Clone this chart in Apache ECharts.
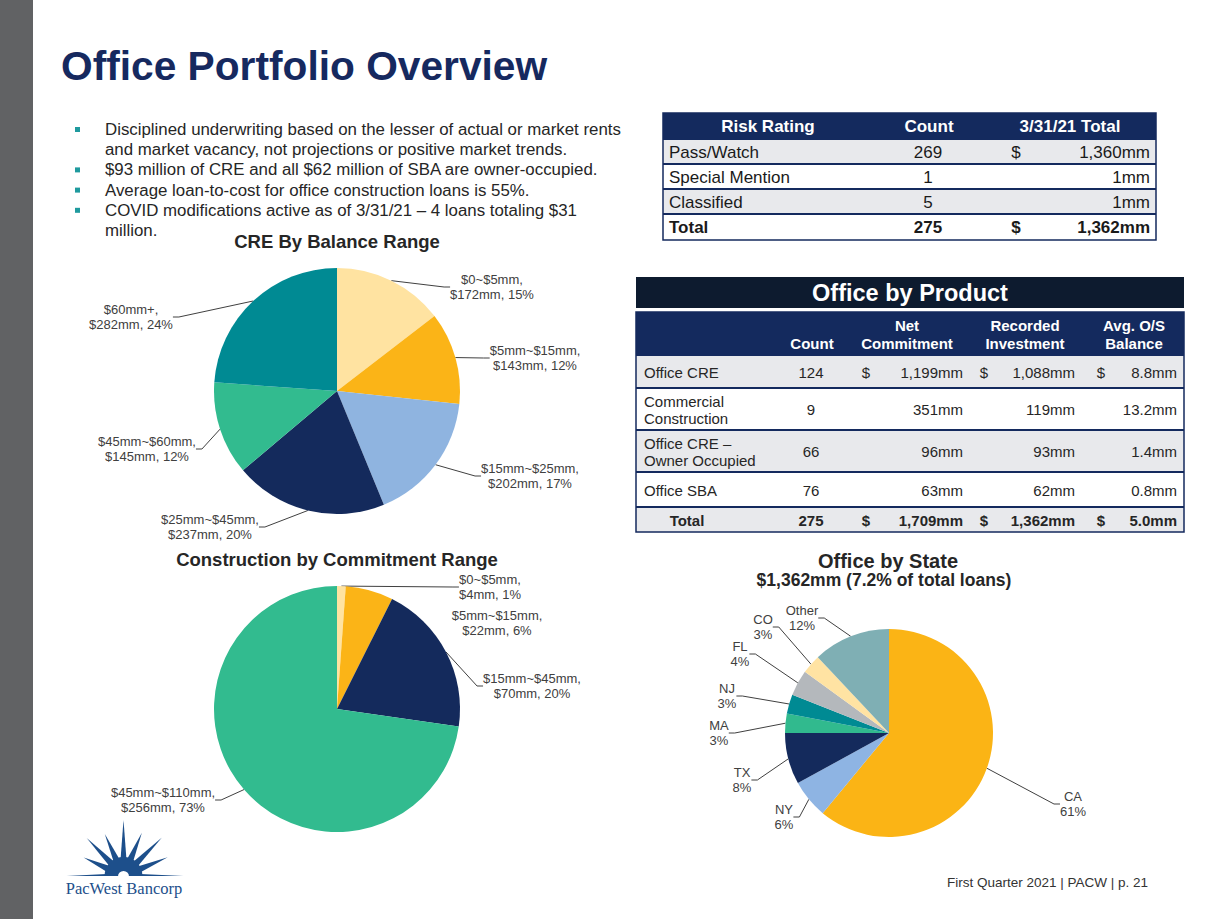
<!DOCTYPE html>
<html><head><meta charset="utf-8">
<script src="https://cdn.jsdelivr.net/npm/echarts@6/dist/echarts.min.js"></script>
<style>html,body{margin:0;padding:0;background:#fff}#c{width:1225px;height:919px}</style>
</head><body><div id="c"></div>
<script>
// ---------------- DATA ----------------
const pageTitle = 'Office Portfolio Overview';
const bullets = [
  ['Disciplined underwriting based on the lesser of actual or market rents', 'and market vacancy, not projections or positive market trends.'],
  ['$93 million of CRE and all $62 million of SBA are owner-occupied.'],
  ['Average loan-to-cost for office construction loans is 55%.'],
  ['COVID modifications active as of 3/31/21 \u2013 4 loans totaling $31', 'million.']
];
const creTitle = 'CRE By Balance Range';
const creCategories = ['$0~$5mm', '$5mm~$15mm', '$15mm~$25mm', '$25mm~$45mm', '$45mm~$60mm', '$60mm+'];
const creValues = [172, 143, 202, 237, 145, 282];
const conTitle = 'Construction by Commitment Range';
const conCategories = ['$0~$5mm', '$5mm~$15mm', '$15mm~$45mm', '$45mm~$110mm'];
const conValues = [4, 22, 70, 256];
const stateTitle = 'Office by State';
const stateSubtitle = '$1,362mm (7.2% of total loans)';
const stateCategories = ['CA', 'NY', 'TX', 'MA', 'NJ', 'FL', 'CO', 'Other'];
const stateValues = [61, 6, 8, 3, 3, 4, 3, 12];
const riskHeaders = ['Risk Rating', 'Count', '3/31/21 Total'];
const riskRows = [
  ['Pass/Watch', '269', '$', '1,360mm'],
  ['Special Mention', '1', '', '1mm'],
  ['Classified', '5', '', '1mm'],
  ['Total', '275', '$', '1,362mm']
];
const productTitle = 'Office by Product';
const productHeaders = ['Count', 'Net\nCommitment', 'Recorded\nInvestment', 'Avg. O/S\nBalance'];
const productRows = [
  ['Office CRE', '124', '$', '1,199mm', '$', '1,088mm', '$', '8.8mm'],
  ['Commercial\nConstruction', '9', '', '351mm', '', '119mm', '', '13.2mm'],
  ['Office CRE \u2013\nOwner Occupied', '66', '', '96mm', '', '93mm', '', '1.4mm'],
  ['Office SBA', '76', '', '63mm', '', '62mm', '', '0.8mm'],
  ['Total', '275', '$', '1,709mm', '$', '1,362mm', '$', '5.0mm']
];
const logoText = 'PacWest Bancorp';
const footerText = 'First Quarter 2021 | PACW | p. 21';

// ---------------- STYLE / LAYOUT ----------------
const FONT = '"Liberation Sans", Arial, Helvetica, sans-serif';
const NAVY = '#142a5e';
const TEXT = '#262626';
const GRAY_ROW = '#e8e9ec';
const creColors = ['#ffe3a1', '#fbb417', '#8fb4e0', '#142a5c', '#32bb8f', '#008a93'];
const conColors = ['#ffe3a1', '#fbb417', '#142a5c', '#32bb8f'];
const stateColors = ['#fbb415', '#8eb4e3', '#142a5c', '#31ba8e', '#008a93', '#b4b8bc', '#ffe3a3', '#7fafb4'];

const crePos = [[492, 287], [535, 358], [530, 476], [210, 527], [147, 449], [131, 317]];
const conPos = [[490, 587], [497, 623], [532, 686], [163, 800]];
const statePos = [[1073, 804], [784, 817], [742, 780], [719, 733], [727, 696], [740, 654], [763, 627], [802, 618]];

function T(text, x, y, o) {
  o = o || {};
  const al = o.align || 'left';
  return {
    type: 'text', silent: true, z: 10,
    style: {
      text: text, x: x, y: y,
      fill: o.fill || TEXT,
      fontSize: o.fontSize || 15,
      fontWeight: o.fontWeight || 'normal',
      fontFamily: o.fontFamily || FONT,
      align: al, textAlign: al,
      verticalAlign: 'middle', textVerticalAlign: 'middle'
    }
  };
}
function R(x, y, w, h, fill, stroke, lw) {
  return { type: 'rect', silent: true, z: 5, shape: { x: x, y: y, width: w, height: h },
    style: { fill: fill || 'none', stroke: stroke || null, lineWidth: lw || 0 } };
}
function L(x1, y1, x2, y2, color, lw) {
  return { type: 'line', silent: true, z: 6, shape: { x1: x1, y1: y1, x2: x2, y2: y2 },
    style: { stroke: color, lineWidth: lw } };
}

const G = [];
// left gray bar
G.push(R(0, 0, 33, 919, '#616264'));
// title
G.push(T(pageTitle, 61, 66, { fontSize: 40.7, fontWeight: 'bold', fill: '#16295f' }));
// bullets
(function () {
  let y = 129.5;
  const lh = 20.2;
  bullets.forEach(function (b) {
    G.push(R(75, y - 2.5, 5, 5, '#1f9a9e'));
    b.forEach(function (line) {
      G.push(T(line, 105, y, { fontSize: 16.85 }));
      y += lh;
    });
  });
})();

// chart titles
G.push(T(creTitle, 337, 241, { fontSize: 18.5, fontWeight: 'bold', align: 'center' }));
G.push(T(conTitle, 337, 559, { fontSize: 18.5, fontWeight: 'bold', align: 'center' }));
G.push(T(stateTitle, 888, 561, { fontSize: 20, fontWeight: 'bold', align: 'center' }));
G.push(T(stateSubtitle, 884, 580, { fontSize: 17.5, fontWeight: 'bold', align: 'center' }));

// risk table
(function () {
  const x0 = 663, x1 = 1156;
  const bounds = [113, 139, 164, 189, 214, 240];
  G.push(R(x0, bounds[0], x1 - x0, bounds[1] - bounds[0], NAVY));
  const hdrX = [768, 929, 1070];
  riskHeaders.forEach(function (h, i) {
    G.push(T(h, hdrX[i], (bounds[0] + bounds[1]) / 2, { fontSize: 17, fontWeight: 'bold', fill: '#fff', align: 'center' }));
  });
  riskRows.forEach(function (r, i) {
    const top = bounds[i + 1], bot = bounds[i + 2];
    const isTotal = i === riskRows.length - 1;
    G.push(R(x0, top, x1 - x0, bot - top, i % 2 === 0 ? GRAY_ROW : '#ffffff'));
    const cy = (top + bot) / 2 + 0.5;
    const o = { fontSize: 17, fontWeight: isTotal ? 'bold' : 'normal', fill: '#1a1a1a' };
    G.push(T(r[0], 669, cy, o));
    G.push(T(r[1], 928, cy, Object.assign({}, o, { align: 'center' })));
    G.push(T(r[2], 1016, cy, Object.assign({}, o, { align: 'center' })));
    G.push(T(r[3], 1150, cy, Object.assign({}, o, { align: 'right' })));
    G.push(L(x0, top, x1, top, NAVY, 2));
  });
  G.push(R(x0, bounds[0], x1 - x0, bounds[5] - bounds[0], 'none', NAVY, 1.5));
})();

// product table
(function () {
  const x0 = 636, x1 = 1184;
  G.push(R(x0, 277, x1 - x0, 31, '#0d1b2f'));
  G.push(T(productTitle, 910, 293, { fontSize: 23.5, fontWeight: 'bold', fill: '#fff', align: 'center' }));
  const bounds = [312, 355, 388, 430, 472, 507, 532];
  G.push(R(x0, bounds[0], x1 - x0, bounds[1] - bounds[0], NAVY));
  const hdrX = [812, 907, 1025, 1134];
  productHeaders.forEach(function (h, i) {
    const lines = h.split('\n');
    if (lines.length === 1) {
      G.push(T(lines[0], hdrX[i], 343, { fontSize: 15, fontWeight: 'bold', fill: '#fff', align: 'center' }));
    } else {
      G.push(T(lines[0], hdrX[i], 325, { fontSize: 15, fontWeight: 'bold', fill: '#fff', align: 'center' }));
      G.push(T(lines[1], hdrX[i], 343, { fontSize: 15, fontWeight: 'bold', fill: '#fff', align: 'center' }));
    }
  });
  const colX = [644, 811, 866, 963, 984, 1075, 1101, 1177];
  const colA = ['left', 'center', 'center', 'right', 'center', 'right', 'center', 'right'];
  productRows.forEach(function (r, i) {
    const top = bounds[i + 1], bot = bounds[i + 2];
    const isTotal = i === productRows.length - 1;
    G.push(R(x0, top, x1 - x0, bot - top, i % 2 === 0 ? GRAY_ROW : '#ffffff'));
    const cy = (top + bot) / 2 + 0.5;
    const o = { fontSize: 15, fontWeight: isTotal ? 'bold' : 'normal', fill: TEXT };
    r.forEach(function (cell, j) {
      if (!cell) return;
      let x = colX[j], a = colA[j];
      if (j === 0 && isTotal) { x = 687; a = 'center'; }
      const lines = cell.split('\n');
      if (lines.length === 1) {
        G.push(T(cell, x, cy, Object.assign({}, o, { align: a })));
      } else {
        G.push(T(lines[0], x, cy - 8.5, Object.assign({}, o, { align: a })));
        G.push(T(lines[1], x, cy + 8.5, Object.assign({}, o, { align: a })));
      }
    });
    G.push(L(x0, top, x1, top, NAVY, 2));
  });
  G.push(R(x0, bounds[0], x1 - x0, bounds[6] - bounds[0], 'none', NAVY, 1.5));
})();

// logo (starburst + wordmark)
(function () {
  const cx = 123.5, cy = 876, col = '#1d4f8b';
  // [angle deg, length px, half-width deg at base]
  const rays = [[0, 60, 7], [23, 48, 11], [45, 54, 11], [67, 47, 11], [90, 56, 10], [114, 46, 11], [134, 53, 11], [155, 44, 11], [180, 57, 7]];
  const r0 = 17;
  function P(a, r) { return [cx + r * Math.cos(a), Math.min(cy, cy - r * Math.sin(a))]; }
  rays.forEach(function (ry) {
    const a = ry[0] * Math.PI / 180;
    const w = ry[2] * Math.PI / 180;
    G.push({ type: 'polygon', silent: true, z: 5, shape: { points: [P(a - w, r0), P(a, ry[1]), P(a + w, r0)] }, style: { fill: col } });
  });
  G.push({ type: 'sector', silent: true, z: 5, shape: { cx: cx, cy: cy, r0: 0, r: 19, startAngle: Math.PI, endAngle: 2 * Math.PI, clockwise: true }, style: { fill: col } });
  G.push({ type: 'sector', silent: true, z: 6, shape: { cx: cx, cy: cy + 0.5, r0: 0, r: 5.5, startAngle: Math.PI, endAngle: 2 * Math.PI, clockwise: true }, style: { fill: '#fff' } });
  G.push(T(logoText, 124, 888, { fontSize: 16.5, fontFamily: '"Liberation Serif", "Times New Roman", serif', fill: col, align: 'center' }));
})();

// footer
G.push(T(footerText, 947, 882, { fontSize: 13.5, fill: '#333' }));

// ---------------- PIES ----------------
function pie(center, radius, cats, vals, colors, fmt, pos, noLine) {
  return {
    type: 'pie', center: center, radius: radius, startAngle: 90, clockwise: true,
    percentPrecision: 0, silent: true, animation: false,
    emphasis: { disabled: true },
    itemStyle: { borderWidth: 0 },
    data: cats.map(function (n, i) {
      const d = { name: n, value: vals[i], itemStyle: { color: colors[i] } };
      if (noLine && noLine.indexOf(i) >= 0) d.labelLine = { show: false };
      return d;
    }),
    label: { show: true, position: 'outside', formatter: fmt, fontSize: 13, lineHeight: 15, color: '#404040', fontFamily: FONT },
    labelLine: { show: true, length: 10, length2: 6, lineStyle: { color: '#404040', width: 1 } },
    labelLayout: function (p) {
      const q = pos[p.dataIndex];
      return { x: q[0], y: q[1], align: 'center', verticalAlign: 'middle' };
    }
  };
}

const chart = echarts.init(document.getElementById('c'), null, { renderer: 'svg', width: 1225, height: 919 });
chart.setOption({
  backgroundColor: '#ffffff',
  animation: false,
  textStyle: { fontFamily: FONT },
  graphic: { elements: G },
  series: [
    pie([337, 391], 123, creCategories, creValues, creColors, '{b},\n${c}mm, {d}%', crePos),
    pie([337, 709], 123, conCategories, conValues, conColors, '{b},\n${c}mm, {d}%', conPos, [1]),
    pie([889, 733], 104, stateCategories, stateValues, stateColors, '{b}\n{d}%', statePos)
  ]
});
</script>
</body></html>
